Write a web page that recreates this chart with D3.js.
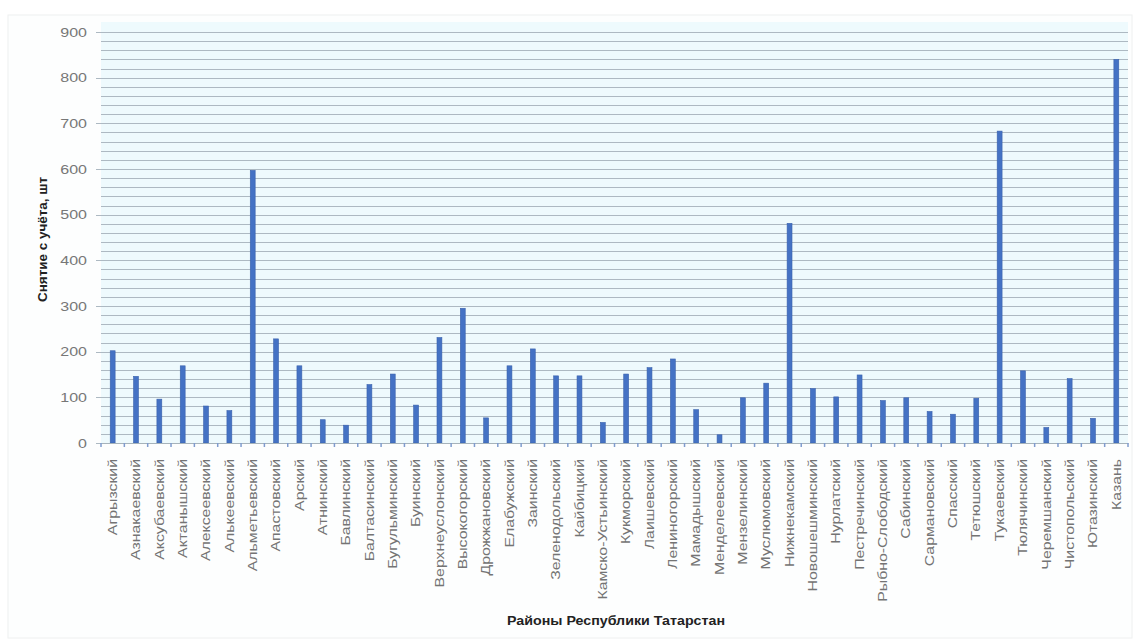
<!DOCTYPE html>
<html><head><meta charset="utf-8">
<script src="https://cdn.jsdelivr.net/npm/d3@7"></script>
<style>
html,body{margin:0;padding:0;background:#fff;}
svg{display:block;font-family:"Liberation Sans","DejaVu Sans",sans-serif;}
</style></head>
<body>
<svg id="c" width="1133" height="639"></svg>
<script>
const districts = ["Агрызский","Азнакаевский","Аксубаевский","Актанышский","Алексеевский","Алькеевский","Альметьевский","Апастовский","Арский","Атнинский","Бавлинский","Балтасинский","Бугульминский","Буинский","Верхнеуслонский","Высокогорский","Дрожжановский","Елабужский","Заинский","Зеленодольский","Кайбицкий","Камско-Устьинский","Кукморский","Лаишевский","Лениногорский","Мамадышский","Менделеевский","Мензелинский","Муслюмовский","Нижнекамский","Новошешминский","Нурлатский","Пестречинский","Рыбно-Слободский","Сабинский","Сармановский","Спасский","Тетюшский","Тукаевский","Тюлячинский","Черемшанский","Чистопольский","Ютазинский","Казань"];
const removed = [202,146,96,169,81,71,597,228,169,51,39,128,151,83,231,295,55,169,206,147,147,45,151,165,184,73,18,99,131,481,119,101,149,93,99,69,63,98,683,158,34,141,54,840];
const yTicks = [0,100,200,300,400,500,600,700,800,900];
const yMinor = d3.range(0,901,20);
const yTitle = "Снятие с учёта, шт";
const xTitle = "Районы Республики Татарстан";

const svg = d3.select("#c");
const L = 101, R = 1128, T = 32, B = 443;

// chart area
svg.append("rect").attr("x",8).attr("y",15).attr("width",1124).attr("height",623)
  .attr("fill","#fdfefe").attr("stroke","#eef0f0");
// plot area background
svg.append("rect").attr("x",L).attr("y",22).attr("width",R-L).attr("height",B-22)
  .attr("fill","#eefafd");

const x = d3.scaleBand().domain(districts).range([L,R]).paddingInner(0.79).paddingOuter(0.395);
const y = d3.scaleLinear().domain([0,900]).range([B,T]);

// gridlines
svg.append("g").selectAll("line").data(yMinor).join("line")
  .attr("x1",d=> yTicks.includes(d)? L-5 : L).attr("x2",R)
  .attr("y1",d=>Math.round(y(d))+0.5).attr("y2",d=>Math.round(y(d))+0.5)
  .attr("stroke","#adb9c2").attr("stroke-width",1);

// bars
svg.append("g").selectAll("rect").data(districts).join("rect")
  .attr("x",d=>x(d)).attr("width",x.bandwidth())
  .attr("y",(d,i)=>y(removed[i])).attr("height",(d,i)=>B-y(removed[i]))
  .attr("fill","#4472c4").attr("stroke","#3a62ad").attr("stroke-width",0.6);

// x axis
const xAxis = d3.axisBottom(x).tickSize(0).tickFormat("");
const gx = svg.append("g").attr("transform",`translate(0,${B})`).call(xAxis);
gx.select(".domain").attr("stroke","#a6b3bb");
// category boundary ticks
const step = x.step();
svg.append("g").selectAll("line").data(d3.range(districts.length+1)).join("line")
  .attr("x1",i=>L+i*step).attr("x2",i=>L+i*step)
  .attr("y1",B).attr("y2",B+4).attr("stroke","#7f9ccf").attr("stroke-width",1.5);

// x labels
svg.append("g").selectAll("text").data(districts).join("text")
  .attr("transform",d=>`translate(${x(d)+x.bandwidth()/2},459) rotate(-90) scale(1.32,1)`)
  .attr("text-anchor","end").attr("dy","0.35em")
  .attr("font-size",12).attr("fill","#747474").text(d=>d);

// y axis labels
const yAxis = d3.axisLeft(y).tickValues(yTicks).tickSize(0).tickPadding(0);
const gy = svg.append("g").attr("transform",`translate(${L},0)`).call(yAxis);
gy.select(".domain").remove();
gy.selectAll("text").attr("font-size",12.5).attr("fill","#777")
  .attr("font-family","Liberation Sans, sans-serif")
  .attr("text-anchor","end")
  .attr("transform",function(d){return `translate(-14,0) scale(1.28,1)`;});

// titles
svg.append("text").attr("transform",`translate(43,${239.5}) rotate(-90)`)
  .attr("text-anchor","middle").attr("dy","0.35em")
  .attr("font-size",12).attr("font-weight","bold").attr("fill","#222")
  .attr("textLength",125).attr("lengthAdjust","spacingAndGlyphs").text(yTitle);
svg.append("text").attr("x",616).attr("y",625)
  .attr("text-anchor","middle")
  .attr("font-size",12.5).attr("font-weight","bold").attr("fill","#222")
  .attr("textLength",218).attr("lengthAdjust","spacingAndGlyphs").text(xTitle);
</script>
</body></html>
